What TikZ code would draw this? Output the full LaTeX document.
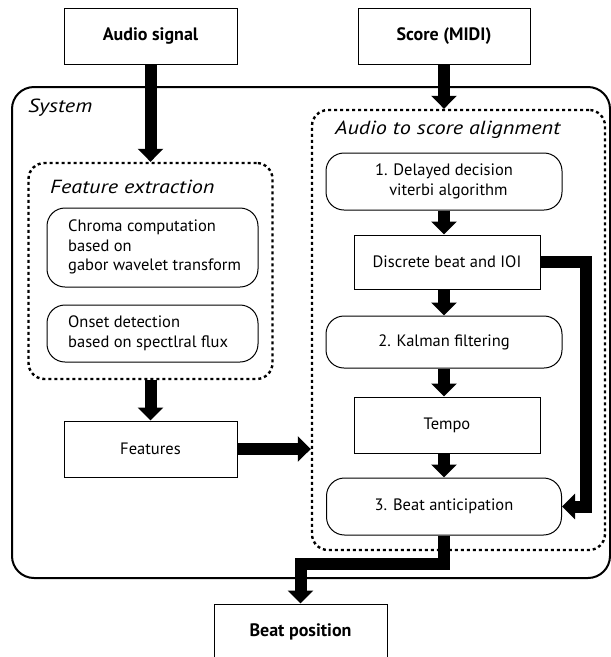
\documentclass[tikz,border=0pt]{standalone}
\usepackage{fontspec}
\setmainfont{PT Sans}
\newfontfamily\labelfont[FakeStretch=1.17]{PT Sans}
\usetikzlibrary{arrows.meta}
\begin{document}
\begin{tikzpicture}[x=1pt,y=-1pt,
  box/.style={draw, line width=1pt, rectangle, inner sep=0pt, align=center, font=\fontsize{16.5}{20}\selectfont},
  rbox/.style={box, rounded corners=18pt},
  btext/.style={anchor=west, inner sep=0pt, align=left, font=\fontsize{16.5}{19.5}\selectfont},
  bold/.style={font=\fontsize{18}{21}\selectfont\bfseries},
  group/.style={draw, line width=2.4pt, dash pattern=on 3pt off 3pt, rounded corners=16pt, inner sep=0pt},
  glabel/.style={anchor=west, inner sep=0pt, font=\labelfont\fontsize{19}{23}\selectfont\itshape},
  big/.style={-{Triangle[width=25pt,length=13pt]}, line width=12pt, line join=miter},
]
\useasboundingbox (0,0) rectangle (611,657);
\clip (0,0) rectangle (611,657);

% System
\node[draw, line width=2pt, rounded corners=22pt, minimum width=598pt, minimum height=491pt, inner sep=0pt] (sys) at (311,332.5) {};
\node[glabel] (syslabel) at (28,108) {System};

% Feature extraction group
\node[group, minimum width=244pt, minimum height=216pt] (fe) at (150.5,271) {};
\node[glabel] (felabel) at (50,187) {Feature extraction};
\node[rbox, minimum width=211pt, minimum height=79pt] (chroma) at (152.5,247.5) {};
\node[btext] (chromat) at (68,247) {Chroma computation\\based on\\gabor wavelet transform};
\node[rbox, minimum width=211pt, minimum height=57pt] (onset) at (152.5,333.5) {};
\node[btext] (onsett) at (68,333.5) {Onset detection\\based on spectlral flux};
\node[box, minimum width=173pt, minimum height=56pt] (feat) at (150.5,449) {Features};

% Alignment group
\node[group, minimum width=293pt, minimum height=440pt] (al) at (458.5,330) {};
\node[glabel] (allabel) at (335,130) {Audio to score alignment};
\node[rbox, minimum width=236pt, minimum height=57pt] (b1) at (444,181.5) {1. Delayed decision\\\ \ viterbi algorithm};
\node[box, minimum width=186pt, minimum height=54pt] (disc) at (447,262) {Discrete beat and IOI};
\node[rbox, minimum width=236pt, minimum height=52pt] (kal) at (444,342) {2. Kalman filtering};
\node[box, minimum width=186pt, minimum height=56pt] (tempo) at (447,425) {Tempo};
\node[rbox, minimum width=235pt, minimum height=57pt] (beat) at (444,506.5) {3. Beat anticipation};

% Inputs / output
\node[box, bold, minimum width=173pt, minimum height=56pt] (audio) at (150.5,36) {Audio signal};
\node[box, bold, minimum width=172pt, minimum height=56pt] (score) at (444,36) {Score (MIDI)};
\node[box, bold, minimum width=173pt, minimum height=56pt] (bpos) at (300.5,632) {Beat position};

% Arrows
\draw[big] (audio.south) -- (audio.south |- fe.north);
\draw[big] (score.south) -- (score.south |- al.north);
\draw[big] (fe.south) -- (fe.south |- feat.north);
\draw[big] (feat.east) -- (feat.east -| al.west);
\draw[big] (b1.south) -- (b1.south |- disc.north);
\draw[big] (disc.south -| b1.south) -- (b1.south |- kal.north);
\draw[big] (kal.south) -- (kal.south |- tempo.north);
\draw[big] (tempo.south -| kal.south) -- (beat.north);
\draw[big] (disc.east) -- (586,262) -- (586,506.5) -- (beat.east);
\coordinate (bend) at (444,564);
\draw[big] (beat.south) -- (bend) -- (bend -| bpos.north) -- (bpos.north);
\end{tikzpicture}
\end{document}
